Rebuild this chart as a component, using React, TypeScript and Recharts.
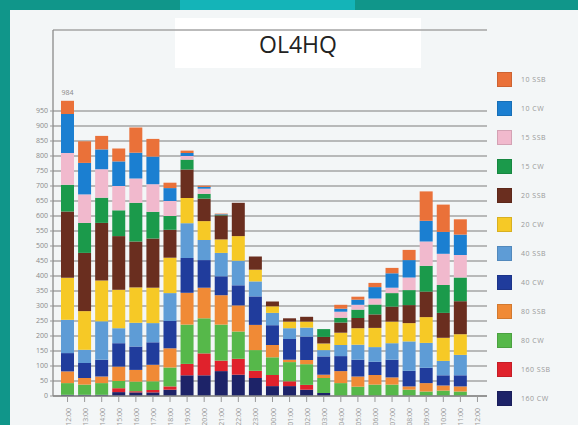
import React from 'react';
import { BarChart, Bar, XAxis, YAxis, CartesianGrid, LabelList } from 'recharts';

const HOURS = ['12', '13', '14', '15', '16', '17', '18', '19', '20', '21', '22', '23',
  '00', '01', '02', '03', '04', '05', '06', '07', '08', '09', '10', '11', '12'];

// QSOs per hour, bottom of the stack first
const CW160 = [4, 4, 4, 13, 12, 12, 21, 69, 69, 83, 71, 60, 33, 33, 21, 10, 0, 0, 0, 0, 0, 0, 0, 0];
const SSB160 = [0, 0, 0, 13, 4, 8, 11, 38, 73, 35, 53, 24, 37, 16, 16, 0, 0, 0, 0, 0, 0, 0, 0, 0];
const CW80 = [39, 34, 39, 24, 32, 29, 63, 131, 117, 120, 91, 69, 59, 64, 69, 50, 43, 31, 38, 38, 21, 15, 18, 15];
const SSB80 = [39, 22, 22, 48, 39, 55, 64, 106, 102, 98, 87, 84, 41, 8, 14, 11, 40, 34, 32, 24, 11, 28, 17, 17];
const CW40 = [61, 50, 56, 78, 78, 75, 91, 116, 92, 63, 67, 95, 66, 69, 78, 61, 50, 56, 44, 59, 52, 51, 34, 37];
const SSB40 = [111, 44, 128, 50, 79, 64, 93, 116, 67, 78, 82, 50, 41, 36, 30, 21, 37, 50, 49, 55, 98, 83, 48, 68];
const CW20 = [140, 129, 136, 128, 118, 118, 118, 84, 63, 45, 82, 39, 22, 22, 20, 22, 41, 55, 64, 72, 61, 86, 77, 69];
const SSB20 = [221, 194, 192, 179, 153, 164, 93, 95, 75, 80, 111, 44, 16, 11, 16, 22, 34, 34, 45, 50, 60, 85, 83, 110];
const CW15 = [89, 100, 84, 86, 129, 89, 46, 33, 16, 2, 0, 0, 0, 0, 0, 26, 16, 28, 33, 45, 50, 86, 93, 79];
const SSB15 = [106, 95, 95, 81, 81, 92, 50, 12, 17, 0, 0, 0, 0, 0, 0, 0, 20, 16, 20, 18, 42, 81, 104, 75];
const CW10 = [130, 105, 66, 82, 86, 92, 43, 10, 6, 2, 0, 0, 0, 0, 0, 0, 10, 17, 38, 48, 58, 69, 73, 68];
const SSB10 = [44, 72, 45, 43, 84, 59, 18, 8, 4, 2, 0, 0, 0, 0, 0, 0, 13, 10, 14, 18, 34, 98, 91, 51];

const Y_TICKS = [0, 50, 100, 150, 200, 250, 300, 350, 400, 450, 500, 550, 600, 650, 700, 750, 800, 850, 900, 950];

const SERIES = [
  { key: 'cw160', name: '160 CW', color: '#1d2368', values: CW160 },
  { key: 'ssb160', name: '160 SSB', color: '#e0222c', values: SSB160 },
  { key: 'cw80', name: '80 CW', color: '#56b84a', values: CW80 },
  { key: 'ssb80', name: '80 SSB', color: '#f08a36', values: SSB80 },
  { key: 'cw40', name: '40 CW', color: '#203c9c', values: CW40 },
  { key: 'ssb40', name: '40 SSB', color: '#5e9cd6', values: SSB40 },
  { key: 'cw20', name: '20 CW', color: '#f6c926', values: CW20 },
  { key: 'ssb20', name: '20 SSB', color: '#6a2e1f', values: SSB20 },
  { key: 'cw15', name: '15 CW', color: '#1b9a4b', values: CW15 },
  { key: 'ssb15', name: '15 SSB', color: '#f1b9cd', values: SSB15 },
  { key: 'cw10', name: '10 CW', color: '#1b7fd1', values: CW10 },
  { key: 'ssb10', name: '10 SSB', color: '#ea7139', values: SSB10 },
];

const data = HOURS.map((h, i) => {
  const row: Record<string, string | number> = { hour: h };
  let total = 0;
  SERIES.forEach(s => {
    const v = s.values[i];
    if (v !== undefined) { row[s.key] = v; total += v; }
  });
  row.total = total;
  return row;
});

const maxIndex = data.reduce((best, d, i) => ((d.total as number) > (data[best].total as number) ? i : best), 0);

const HourTick = (props: any) => {
  const { x, y, payload } = props;
  return (
    <g transform={`translate(${x},${y + 4})`}>
      <text transform="rotate(-90)" textAnchor="end" dy={3} fontSize={7} fill="#9a9a9a">
        {payload.value}:00
      </text>
    </g>
  );
};

const PeakLabel = (props: any) => {
  const { x, y, width, index } = props;
  if (index !== maxIndex) return null;
  return (
    <text x={x + width / 2} y={y - 6} textAnchor="middle" fontSize={7} fill="#888">
      {data[maxIndex].total as number}
    </text>
  );
};

export default function App() {
  return (
    <div style={{ position: 'absolute', left: 0, top: 0, width: 578, height: 425, overflow: 'hidden', background: '#10968a', fontFamily: 'Open Sans, sans-serif' }}>
      <div style={{ position: 'absolute', left: 180, top: 0, width: 175, height: 10, background: '#14b4b8' }} />
      <div style={{ position: 'absolute', left: 10, top: 10, width: 568, height: 415, background: '#f3f6f7' }} />
      <div style={{ position: 'absolute', left: 175, top: 18, width: 246, height: 50, background: '#ffffff', textAlign: 'center', lineHeight: '52px', fontSize: 23, color: '#222' }}>
        OL4HQ
      </div>

      <div style={{ position: 'absolute', left: 0, top: 0 }}>
        <BarChart width={578} height={425} data={data} margin={{ top: 30, right: 91, bottom: 4, left: 13 }} barSize={13}>
          <CartesianGrid horizontal vertical={false} stroke="#a5a5a5" strokeWidth={1.3} />
          <XAxis dataKey="hour" interval={0} tick={<HourTick />} tickLine={{ stroke: '#999' }} axisLine={{ stroke: '#8a8a8a', strokeWidth: 1.3 }}
            padding={{ left: 6, right: 1 }} height={25} />
          <YAxis domain={[0, 1220]} ticks={Y_TICKS} interval={0} width={40} tick={{ fill: '#8a8a8a', fontSize: 7 }}
            tickLine={{ stroke: '#999' }} tickSize={3} axisLine={{ stroke: '#8a8a8a', strokeWidth: 1.3 }} allowDataOverflow />
          {SERIES.map((s, i) => (
            <Bar key={s.key} dataKey={s.key} stackId="q" fill={s.color} isAnimationActive={false}>
              {i === SERIES.length - 1 && <LabelList dataKey="total" content={<PeakLabel />} />}
            </Bar>
          ))}
        </BarChart>
      </div>

      <div style={{ position: 'absolute', left: 497, top: 65 }}>
        {[...SERIES].reverse().map(s => (
          <div key={s.key} style={{ display: 'flex', alignItems: 'center', height: 29 }}>
            <div style={{ width: 15, height: 15, background: s.color, border: '1px solid rgba(0,0,0,0.12)', boxSizing: 'border-box' }} />
            <span style={{ marginLeft: 9, fontSize: 7, color: '#999', letterSpacing: 0.5 }}>{s.name}</span>
          </div>
        ))}
      </div>
    </div>
  );
}
